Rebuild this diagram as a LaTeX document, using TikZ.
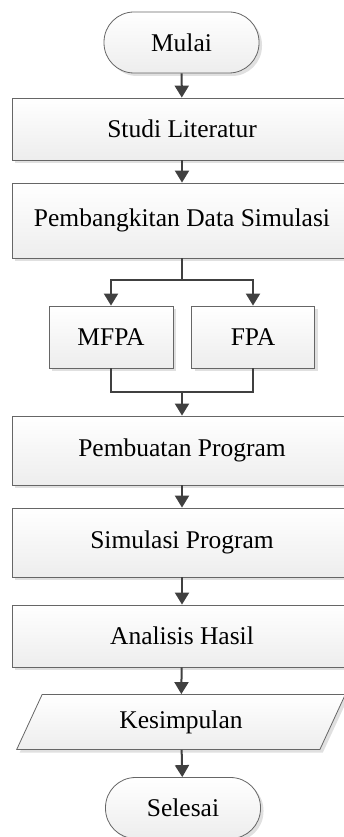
\documentclass[tikz,border=0pt]{standalone}
\usepackage{fontspec}
\setmainfont{Liberation Serif}
\usetikzlibrary{shapes.geometric, arrows.meta, shadows}

\tikzset{
  boxbase/.style={draw=black!60, line width=0.8pt, top color=white, bottom color=black!7,
    drop shadow={shadow xshift=3pt, shadow yshift=-3pt, fill=black!12, opacity=1},
    inner sep=0pt, font=\fontsize{25.5}{30}\selectfont},
  process/.style={boxbase, rectangle, minimum width=340pt},
  terminal/.style={boxbase, rectangle, rounded corners=30pt, minimum width=155pt, minimum height=61pt},
  iobox/.style={boxbase, trapezium, trapezium left angle=64, trapezium right angle=116,
    minimum width=329pt, minimum height=55pt, trapezium stretches=true},
  arr/.style={draw=black!75, line width=2pt, -{Triangle[length=12pt, width=14pt]}},
  link/.style={draw=black!75, line width=2pt}
}

\begin{document}
\begin{tikzpicture}[x=1pt, y=-1pt]
    \useasboundingbox (0,0) rectangle (343,837);   % fix the page
    \node [terminal] (mulai) at (181.5,42.5) {Mulai};                            % start
    \node [process, minimum height=62pt] (studi) at (182,129) {Studi Literatur};
    \node [process, minimum height=75pt] (data) at (182,220.5) {Pembangkitan Data Simulasi};
    \node [process, minimum width=124pt, minimum height=62pt] (mfpa) at (111,337) {MFPA};
    \node [process, minimum width=123pt, minimum height=62pt] (fpa) at (253,337) {FPA};
    \node [process, minimum height=69pt] (program) at (182,450.5) {Pembuatan Program};
    \node [process, minimum height=69pt] (simulasi) at (182,542.5) {Simulasi Program};
    \node [process, minimum height=62pt] (analisis) at (182,636) {Analisis Hasil};
    \node [iobox] (kesimpulan) at (181,722) {Kesimpulan};                        % output
    \node [terminal] (selesai) at (183,808) {Selesai};                           % end
    \coordinate (split) at (182,280);
    \coordinate (join) at (182,392);
    \draw [arr] (mulai) -- (studi);
    \draw [arr] (studi) -- (data);
    \draw [link] (data) -- (split);
    \draw [arr] (split) -| (mfpa);
    \draw [arr] (split) -| (fpa);
    \draw [link] (mfpa) |- (join) -| (fpa);
    \draw [arr] (join) -- (program);
    \draw [arr] (program) -- (simulasi);
    \draw [arr] (simulasi) -- (analisis);
    \draw [arr] (analisis) -- (kesimpulan);
    \draw [arr] (kesimpulan) -- (selesai);
\end{tikzpicture}
\end{document}
